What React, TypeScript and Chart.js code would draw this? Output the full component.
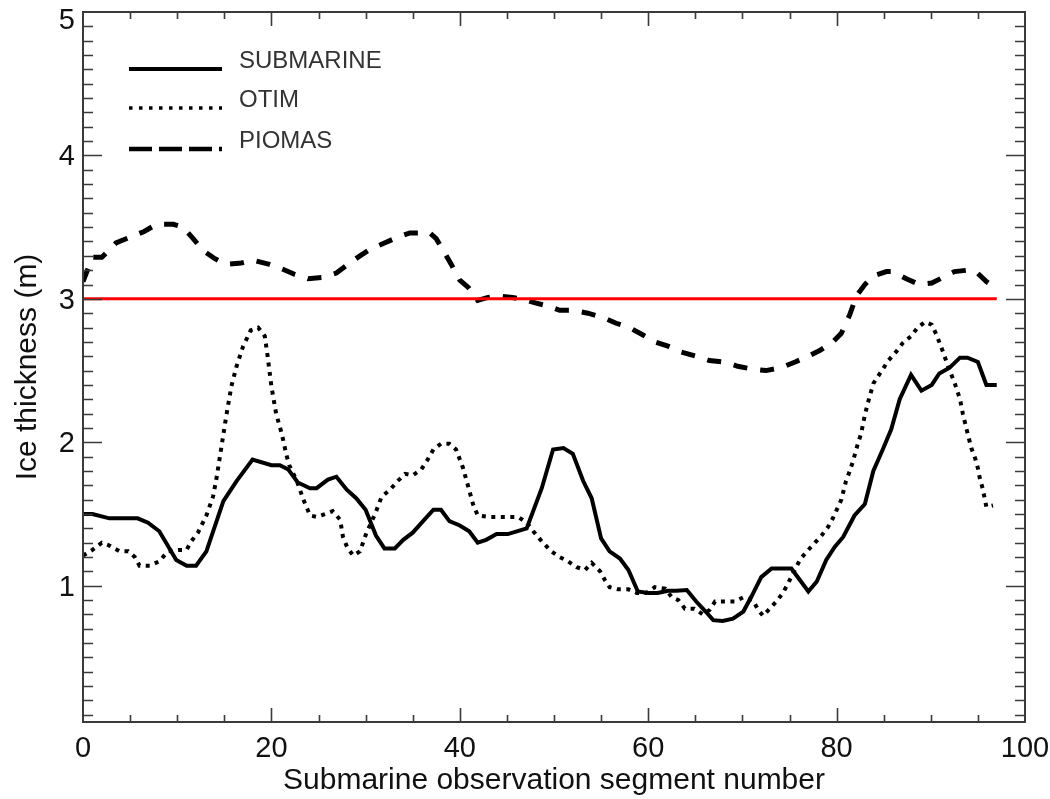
import React, { useEffect, useRef } from 'react';
import { Chart, registerables } from 'chart.js';

Chart.register(...registerables);

// ---- Data ----
const submarineX = [0, 1, 2.8, 5.8, 6.9, 8.1, 9.9, 11, 12, 13.1, 14.9, 16.3, 18, 20, 20.9, 21.8, 22.8, 24.1, 24.8, 26, 26.9, 28, 29, 30, 31.1, 32, 33.1, 34, 35, 36.1, 37.2, 38, 38.9, 40, 41, 41.9, 42.8, 43.9, 45.1, 47.1, 48.7, 49.9, 51, 52, 53.1, 54, 55, 55.9, 57, 57.9, 58.9, 60, 61, 62.1, 63, 64.1, 65.1, 66.1, 66.9, 67.9, 69, 70.1, 71, 72, 73.1, 74.1, 75.2, 76.1, 77, 77.9, 78.9, 79.8, 80.7, 81.9, 83, 83.9, 84.9, 85.8, 86.7, 87.9, 89, 90.1, 90.9, 92, 93.1, 93.9, 95, 95.9, 97];
const submarineY = [1.5, 1.5, 1.47, 1.47, 1.44, 1.38, 1.18, 1.14, 1.14, 1.24, 1.59, 1.73, 1.88, 1.84, 1.84, 1.81, 1.72, 1.68, 1.68, 1.74, 1.76, 1.67, 1.61, 1.53, 1.35, 1.26, 1.26, 1.32, 1.37, 1.45, 1.53, 1.53, 1.45, 1.42, 1.38, 1.3, 1.32, 1.36, 1.36, 1.4, 1.68, 1.95, 1.96, 1.92, 1.73, 1.61, 1.33, 1.24, 1.19, 1.11, 0.96, 0.95, 0.95, 0.965, 0.965, 0.97, 0.89, 0.82, 0.76, 0.755, 0.77, 0.82, 0.93, 1.06, 1.12, 1.12, 1.12, 1.04, 0.96, 1.03, 1.18, 1.27, 1.34, 1.49, 1.57, 1.8, 1.95, 2.09, 2.3, 2.47, 2.36, 2.4, 2.48, 2.52, 2.59, 2.59, 2.56, 2.4, 2.4];

const otimX = [0, 1, 2, 2.8, 3.9, 4.8, 5.5, 6, 7.1, 8.1, 9, 10.1, 11, 11.5, 12.2, 13.1, 13.8, 14.2, 14.7, 15.2, 15.75, 16.3, 17, 17.8, 18.6, 19.3, 19.6, 20, 20.5, 21.1, 21.6, 21.9, 22.7, 23.4, 24.1, 24.8, 25.7, 26.5, 27.3, 27.6, 28.1, 28.7, 29.4, 30.1, 31, 31.7, 32.6, 33.4, 34.2, 35, 35.9, 36.5, 37.2, 38, 38.9, 39.6, 40.3, 40.9, 41.4, 41.9, 43, 44.1, 45.1, 46.2, 47.1, 47.8, 48.7, 49.7, 50.6, 51.5, 52.4, 53.3, 54, 54.9, 55.4, 55.9, 56.8, 57.9, 58.8, 59.8, 60.7, 61.8, 62.5, 63.2, 63.9, 64.9, 65.8, 66.5, 67.1, 68.1, 69.2, 70.1, 71.1, 71.7, 72.2, 72.9, 73.6, 74.3, 74.8, 75.7, 76.2, 77, 77.7, 78.4, 79.1, 79.6, 80.5, 81, 81.4, 81.7, 82.3, 82.6, 83, 83.3, 83.9, 84.6, 85.5, 86.3, 87, 87.9, 88.6, 89.4, 90.1, 90.6, 91.3, 92, 92.5, 93.1, 93.4, 93.8, 94.3, 94.7, 95, 95.2, 95.5, 95.9, 96.6];
const otimY = [1.21, 1.25, 1.3, 1.28, 1.24, 1.24, 1.2, 1.14, 1.14, 1.17, 1.24, 1.25, 1.25, 1.31, 1.37, 1.49, 1.62, 1.76, 1.97, 2.18, 2.39, 2.53, 2.67, 2.78, 2.8, 2.74, 2.6, 2.39, 2.2, 2.06, 1.91, 1.84, 1.73, 1.6, 1.49, 1.48, 1.5, 1.52, 1.46, 1.34, 1.26, 1.21, 1.24, 1.37, 1.5, 1.62, 1.67, 1.73, 1.78, 1.77, 1.81, 1.87, 1.95, 1.99, 1.99, 1.95, 1.83, 1.69, 1.57, 1.49, 1.48, 1.48, 1.48, 1.48, 1.44, 1.38, 1.31, 1.24, 1.2, 1.17, 1.13, 1.11, 1.16, 1.1, 1.04, 0.99, 0.975, 0.975, 0.95, 0.95, 0.99, 0.98, 0.92, 0.9, 0.84, 0.84, 0.8, 0.83, 0.89, 0.89, 0.89, 0.92, 0.9, 0.83, 0.79, 0.84, 0.89, 0.95, 1.01, 1.13, 1.19, 1.25, 1.3, 1.35, 1.41, 1.47, 1.6, 1.73, 1.8, 1.86, 2.0, 2.06, 2.19, 2.27, 2.41, 2.48, 2.57, 2.63, 2.69, 2.74, 2.8, 2.84, 2.82, 2.75, 2.63, 2.5, 2.42, 2.3, 2.2, 2.09, 1.96, 1.89, 1.82, 1.75, 1.68, 1.55, 1.56];

const piomasX = [0, 1, 2, 3.5, 5, 6.5, 7.8, 9.6, 10.6, 11.7, 12.7, 14, 15.2, 16.8, 18, 19.8, 21.1, 22.5, 23.9, 25.5, 26.9, 28.1, 29.4, 30.6, 32, 33.4, 34.7, 36.8, 37.5, 38.4, 39.1, 40, 40.9, 41.9, 43, 44.2, 45.6, 47.1, 48.1, 49.4, 50.6, 52, 53.6, 55.2, 56.6, 58, 59.4, 60.7, 62.1, 63.5, 65.1, 66.5, 68.1, 69.5, 71.1, 72.5, 74.1, 75.6, 77, 78.2, 79.6, 80.5, 81.4, 82.1, 83, 83.9, 85.3, 86, 87.4, 88.8, 90.1, 91.3, 92.5, 93.9, 94.8, 95.9, 96.8, 97];
const piomasY = [3.12, 3.29, 3.29, 3.39, 3.43, 3.47, 3.52, 3.52, 3.5, 3.42, 3.34, 3.28, 3.24, 3.25, 3.27, 3.24, 3.21, 3.17, 3.14, 3.15, 3.18, 3.24, 3.3, 3.35, 3.39, 3.43, 3.46, 3.46, 3.42, 3.32, 3.24, 3.13, 3.08, 2.99, 3.01, 3.02, 3.01, 2.99, 2.97, 2.95, 2.92, 2.92, 2.9, 2.87, 2.83, 2.8, 2.75, 2.7, 2.67, 2.63, 2.6, 2.57, 2.56, 2.53, 2.51, 2.5, 2.52, 2.56, 2.6, 2.64, 2.7, 2.76, 2.89, 3.02, 3.1, 3.16, 3.19, 3.19, 3.14, 3.1, 3.11, 3.15, 3.19, 3.2, 3.19, 3.12, 3.08, 3.07];

const refLineX = [0, 97];
const refLineY = [3, 3];

const seriesLabels = ['SUBMARINE', 'OTIM', 'PIOMAS'];
const xTickValues = [0, 20, 40, 60, 80, 100];
const yTickValues = [1, 2, 3, 4, 5];
const yTickLabels = ['1', '2', '3', '4', '5'];
const xTitle = 'Submarine observation segment number';
const yTitle = 'Ice thickness (m)';

const zip = (xs: number[], ys: number[]) => xs.map((x, i) => ({ x, y: ys[i] }));

const FONT = '"Liberation Sans", Arial, Helvetica, sans-serif';

const framePlugin = {
  id: 'frameTicks',
  afterDatasetsDraw(chart: any) {
    const { ctx, chartArea: a, scales } = chart;
    const xs = scales.x;
    const ys = scales.y;
    ctx.save();
    ctx.strokeStyle = '#3a3a3a';
    ctx.lineWidth = 1.6;
    ctx.beginPath();
    // y ticks (left and right, inward)
    for (let i = 1; i <= 49; i++) {
      const v = i / 10;
      const py = Math.round(ys.getPixelForValue(v)) + 0.5;
      const major = i % 10 === 0;
      const len = major ? 19 : 10;
      ctx.moveTo(a.left, py);
      ctx.lineTo(a.left + len, py);
      ctx.moveTo(a.right, py);
      ctx.lineTo(a.right - len, py);
    }
    // x ticks (bottom and top, inward)
    for (let v = 5; v < 100; v += 5) {
      const px = Math.round(xs.getPixelForValue(v)) + 0.5;
      const major = v % 20 === 0;
      const len = major ? 14 : 7;
      ctx.moveTo(px, a.bottom);
      ctx.lineTo(px, a.bottom - len);
      ctx.moveTo(px, a.top);
      ctx.lineTo(px, a.top + len);
    }
    ctx.stroke();
    ctx.lineWidth = 2;
    ctx.strokeRect(a.left, a.top, a.right - a.left, a.bottom - a.top);

    // y tick labels (kept inside the canvas at the top)
    ctx.fillStyle = '#111';
    ctx.font = `29px ${FONT}`;
    ctx.textAlign = 'right';
    ctx.textBaseline = 'middle';
    yTickValues.forEach((v, i) => {
      const py = Math.max(ys.getPixelForValue(v) + 2, a.top + 9);
      ctx.fillText(yTickLabels[i], a.left - 8, py);
    });

    // legend
    const legendStyles = [
      { dash: [] as number[], width: 4 },
      { dash: [3.5, 6.5], width: 3.5 },
      { dash: [23, 7], width: 4.5 },
    ];
    const rows = [69, 108, 149];
    ctx.lineCap = 'butt';
    seriesLabels.forEach((label, i) => {
      const st = legendStyles[i];
      ctx.beginPath();
      ctx.setLineDash(st.dash);
      ctx.lineWidth = st.width;
      ctx.strokeStyle = '#000';
      ctx.moveTo(129, rows[i]);
      ctx.lineTo(222, rows[i]);
      ctx.stroke();
      ctx.setLineDash([]);
      ctx.fillStyle = '#333';
      ctx.font = `24px ${FONT}`;
      ctx.textBaseline = 'middle';
      ctx.textAlign = 'left';
      ctx.fillText(label, 239, rows[i] - 8);
    });
    ctx.restore();
  },
};

export default function App() {
  const canvasRef = useRef<HTMLCanvasElement | null>(null);

  useEffect(() => {
    const canvas = canvasRef.current;
    if (!canvas) return;
    const chart = new Chart(canvas, {
      type: 'line',
      data: {
        datasets: [
          {
            label: 'ref',
            data: zip(refLineX, refLineY),
            borderColor: '#ff0000',
            borderWidth: 3,
            pointRadius: 0,
            tension: 0,
          },
          {
            label: seriesLabels[0],
            data: zip(submarineX, submarineY),
            borderColor: '#000',
            borderWidth: 4,
            pointRadius: 0,
            tension: 0,
          },
          {
            label: seriesLabels[1],
            data: zip(otimX, otimY),
            borderColor: '#000',
            borderWidth: 4,
            borderDash: [4, 5.5],
            pointRadius: 0,
            tension: 0,
          },
          {
            label: seriesLabels[2],
            data: zip(piomasX, piomasY),
            borderColor: '#000',
            borderWidth: 5,
            borderDash: [14, 13],
            pointRadius: 0,
            tension: 0,
          },
        ],
      },
      options: {
        responsive: false,
        animation: false,
        events: [],
        layout: { padding: { top: 12, right: 25, left: 0, bottom: 0 } },
        plugins: {
          legend: { display: false },
          tooltip: { enabled: false },
        },
        scales: {
          x: {
            type: 'linear',
            min: 0,
            max: 100,
            grid: { display: false, drawTicks: false },
            border: { display: false },
            afterBuildTicks: (s: any) => {
              s.ticks = xTickValues.map((v) => ({ value: v }));
            },
            afterFit: (s: any) => {
              s.height = 77;
              s.paddingLeft = 0;
              s.paddingRight = 0;
            },
            ticks: {
              color: '#111',
              font: { family: FONT, size: 29 },
              padding: 10,
              maxRotation: 0,
              autoSkip: false,
            },
            title: {
              display: true,
              text: xTitle,
              color: '#111',
              font: { family: FONT, size: 30 },
              padding: { top: 0, bottom: 0 },
            },
          },
          y: {
            type: 'linear',
            min: 0.05,
            max: 5,
            grid: { display: false, drawTicks: false },
            border: { display: false },
            afterBuildTicks: (s: any) => {
              s.ticks = yTickValues.map((v) => ({ value: v }));
            },
            afterFit: (s: any) => {
              s.width = 83;
              s.paddingTop = 0;
              s.paddingBottom = 0;
            },
            ticks: {
              display: false,
            },
            title: {
              display: true,
              text: yTitle,
              color: '#111',
              font: { family: FONT, size: 30 },
              padding: { top: 10, bottom: 0 },
            },
          },
        },
      },
      plugins: [framePlugin],
    });
    return () => chart.destroy();
  }, []);

  return (
    <div style={{ position: 'absolute', left: 0, top: 0, width: 1050, height: 799, background: '#fff' }}>
      <canvas ref={canvasRef} width={1050} height={799} style={{ width: 1050, height: 799, display: 'block' }} />
    </div>
  );
}
